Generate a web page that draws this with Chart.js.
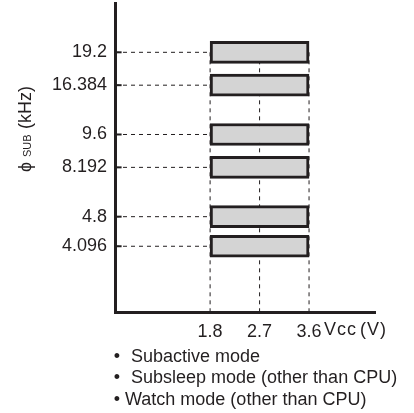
<!DOCTYPE html>
<html>
<head>
<meta charset="utf-8">
<script src="https://cdn.jsdelivr.net/npm/chart.js@4.4.1/dist/chart.umd.min.js"></script>
<style>
  html, body { margin: 0; padding: 0; background: #fff; }
  #wrap { width: 414px; height: 413px; position: relative; }
</style>
</head>
<body>
<div id="wrap"><canvas id="chart" width="414" height="413"></canvas></div>
<script>
// frequency tick labels (kHz) and their row on the schematic axis
const freqLabels = ['19.2', '16.384', '9.6', '8.192', '4.8', '4.096'];
const freqRows = [0, 2, 5, 7, 10, 11.8];
// operating voltage range for every frequency (V)
const vccMin = 1.8;
const vccMax = 3.6;
const vccTicks = [1.8, 2.7, 3.6];
const notes = ['Subactive mode', 'Subsleep mode (other than CPU)', 'Watch mode (other than CPU)'];

const ink = '#231f20';
const fontFam = '"Liberation Sans", Arial, Helvetica, sans-serif';
const xMin = 0.07, xMax = 4.8;
const yMin = -3, yMax = 15.8;

const datasets = [];

// bars
datasets.push({
  type: 'bar',
  data: freqRows.map(r => ({ x: [vccMin, vccMax], y: r })),
  backgroundColor: '#d4d4d4',
  borderColor: ink,
  borderWidth: 3,
  borderSkipped: false,
  barThickness: 22,
  order: 0
});

// dashed guides from the y axis to the bars
freqRows.forEach(r => {
  datasets.push({
    type: 'line',
    data: [{ x: xMin, y: r }, { x: vccMin, y: r }],
    borderColor: ink,
    borderWidth: 1,
    borderDash: [4, 4],
    pointRadius: 0,
    order: 2
  });
  datasets.push({
    type: 'line',
    data: [{ x: xMin, y: r }, { x: xMin + 0.12, y: r }],
    borderColor: ink,
    borderWidth: 2,
    pointRadius: 0,
    order: 2
  });
});

// dashed verticals at the voltage ticks
vccTicks.forEach(v => {
  datasets.push({
    type: 'line',
    data: [{ x: v, y: freqRows[0] }, { x: v, y: yMax }],
    borderColor: ink,
    borderWidth: 1,
    borderDash: [4, 4],
    pointRadius: 0,
    order: 3
  });
});

const textPlugin = {
  id: 'texts',
  afterDraw(chart) {
    const ctx = chart.ctx;
    ctx.save();
    ctx.fillStyle = ink;

    // y title, rotated, with subscript
    ctx.translate(26, 0);
    ctx.rotate(-Math.PI / 2);
    ctx.textBaseline = 'middle';
    ctx.textAlign = 'left';
    ctx.font = '18px ' + fontFam;
    ctx.fillText('\u03d5', -172, 0);
    ctx.font = '11px ' + fontFam;
    ctx.fillText('SUB', -157, 2);
    ctx.font = '18px ' + fontFam;
    ctx.fillText('(kHz)', -129, 0);
    ctx.setTransform(1, 0, 0, 1, 0, 0);

    // x axis unit
    ctx.font = '18px ' + fontFam;
    ctx.textBaseline = 'alphabetic';
    ctx.textAlign = 'left';
    ctx.letterSpacing = '1px';
    ctx.fillText('Vcc', 324, 335);
    ctx.fillText('(V)', 360, 335);
    ctx.letterSpacing = '0px';

    // mode notes
    const rowsY = [362, 383, 405];
    notes.forEach((t, i) => {
      ctx.textAlign = 'center';
      ctx.fillText('\u2022', 117, rowsY[i]);
      ctx.textAlign = 'left';
      ctx.fillText(t, i < 2 ? 131 : 125, rowsY[i]);
    });
    ctx.restore();
  }
};

new Chart(document.getElementById('chart'), {
  data: { datasets },
  options: {
    responsive: false,
    animation: false,
    indexAxis: 'y',
    layout: { padding: { left: 0, top: 3, right: 39, bottom: 0 } },
    plugins: { legend: { display: false }, tooltip: { enabled: false } },
    scales: {
      x: {
        type: 'linear',
        min: xMin,
        max: xMax,
        afterBuildTicks: s => { s.ticks = vccTicks.map(v => ({ value: v })); },
        afterFit: s => { s.height = 101; s.paddingLeft = 0; s.paddingRight = 0; },
        grid: { display: false, drawTicks: false },
        border: { display: true, color: ink, width: 3 },
        ticks: {
          color: ink,
          padding: 9,
          font: { size: 18, family: fontFam },
          maxRotation: 0,
          callback: v => String(v)
        }
      },
      y: {
        type: 'linear',
        min: yMin,
        max: yMax,
        reverse: true,
        offset: false,
        afterBuildTicks: s => { s.ticks = freqRows.map(v => ({ value: v })); },
        afterFit: s => { s.width = 115; s.paddingTop = 0; s.paddingBottom = 0; },
        grid: { display: false, drawTicks: false, offset: false },
        border: { display: true, color: ink, width: 3 },
        ticks: {
          color: ink,
          padding: 8,
          font: { size: 18, family: fontFam },
          callback: (v, i) => freqLabels[i]
        }
      }
    }
  },
  plugins: [textPlugin]
});
</script>
</body>
</html>
